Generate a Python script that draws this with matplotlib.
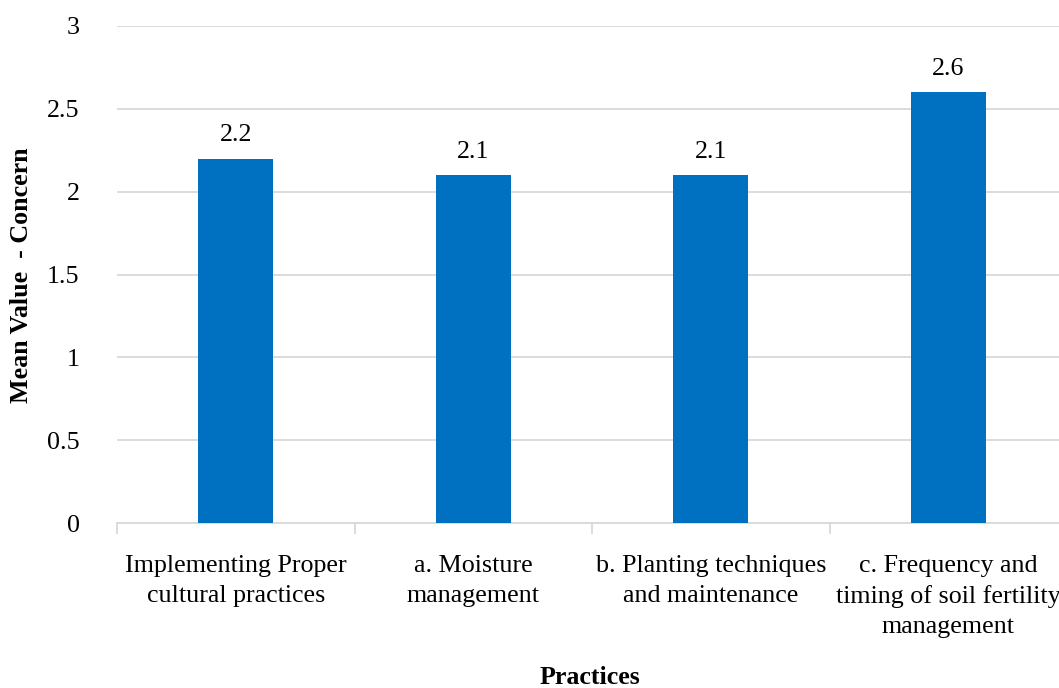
import matplotlib
matplotlib.use("Agg")
import matplotlib.pyplot as plt

plt.rcParams['font.family'] = ['Liberation Serif', 'DejaVu Serif']

practices = ["Implementing Proper\ncultural practices",
             "a. Moisture\nmanagement",
             "b. Planting techniques\nand maintenance",
             "c. Frequency and\ntiming of soil fertility\nmanagement"]
mean_values = [2.2, 2.1, 2.1, 2.6]
y_ticks = [0, 0.5, 1, 1.5, 2, 2.5, 3]
y_tick_labels = ["0", "0.5", "1", "1.5", "2", "2.5", "3"]

W, H = 1059, 688
fs = 18.7
fig = plt.figure(figsize=(W / 100, H / 100), dpi=100)
ax = fig.add_axes([117 / W, 165 / H, 950 / W, 497 / H])

grid_col = "#D9D9D9"
pos = range(len(practices))
bars = ax.bar(pos, mean_values, width=0.316, color="#0070C0", zorder=3)
for b, v in zip(bars, mean_values):
    ax.text(b.get_x() + b.get_width() / 2, v + 0.075, f"{v:g}",
            ha="center", va="bottom", fontsize=fs)

ax.set_xlim(-0.5, len(practices) - 0.5)
ax.set_ylim(0, 3)
ax.set_yticks(y_ticks)
ax.set_yticklabels(y_tick_labels, fontsize=fs)
ax.tick_params(axis="y", length=0, pad=27)
ax.yaxis.grid(True, color=grid_col, linewidth=1.3, zorder=0)

ax.set_xticks(list(pos))
ax.set_xticklabels(practices, fontsize=fs, linespacing=1.45)
ax.tick_params(axis="x", which="major", length=0, pad=23)
ax.set_xticks([i - 0.5 for i in range(len(practices))], minor=True)
ax.tick_params(axis="x", which="minor", length=8, width=1.3, color=grid_col)

for s in ["top", "right", "left"]:
    ax.spines[s].set_visible(False)
ax.spines["bottom"].set_color(grid_col)
ax.spines["bottom"].set_linewidth(1.3)

fig.text(22 / W, 1 - 275 / H, "Mean Value  - Concern", rotation=90,
         ha="center", va="center", fontsize=fs, fontweight="bold")
fig.text(590 / W, 1 - 677 / H, "Practices", ha="center", va="center",
         fontsize=fs, fontweight="bold")

fig.savefig("out.png", dpi=100)
